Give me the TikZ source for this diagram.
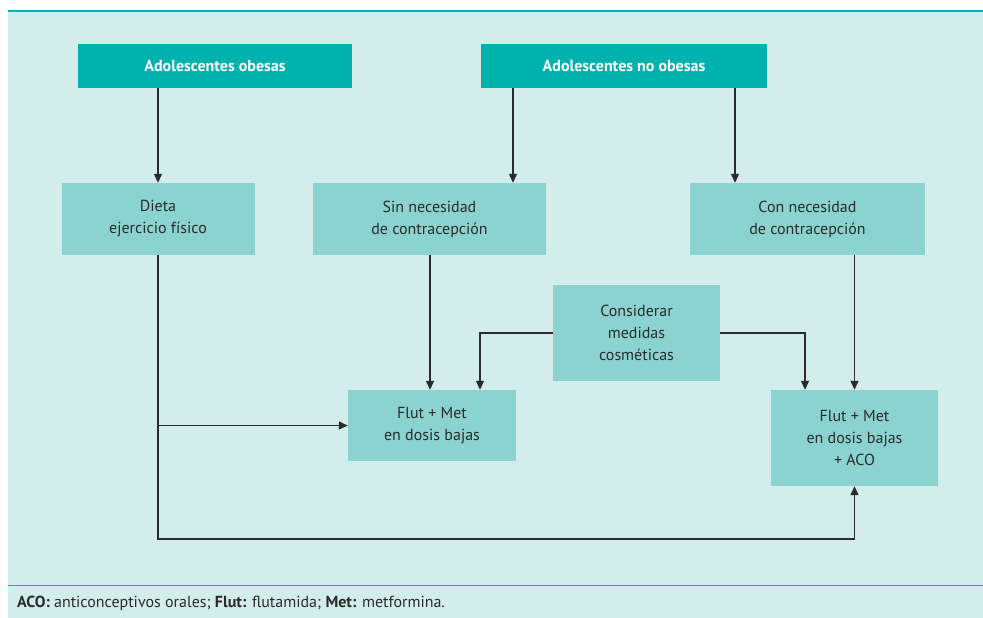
\documentclass[tikz,border=0pt]{standalone}
\usepackage{fontspec}
\setmainfont{PT Sans}
\usetikzlibrary{arrows.meta}
\definecolor{bg}{HTML}{D3ECEC}
\definecolor{dark}{HTML}{00B2AE}
\definecolor{boxc}{HTML}{8BD3D1}
\definecolor{ln}{HTML}{2B2B2B}
\begin{document}
\begin{tikzpicture}[x=1pt,y=-1pt,
 topbox/.style={fill=dark, text=white, font=\fontsize{16}{19}\selectfont\bfseries, inner sep=0pt},
 lbox/.style={fill=boxc, text=ln, font=\fontsize{16}{22}\selectfont, align=center, inner sep=0pt},
 arr/.style={-{Triangle[length=9pt,width=8pt]}, line width=1.2pt, draw=ln}]
\useasboundingbox (0,0) rectangle (983,618);
\fill[white] (0,0) rectangle (983,618);
\fill[bg] (8,10) rectangle (983,618);
\draw[dark, line width=2pt] (8,11) -- (983,11);
\draw[dark, line width=1pt] (8,585) -- (983,585);

\node[topbox, minimum width=274pt, minimum height=44pt] (ob) at (215,66) {Adolescentes obesas};
\node[topbox, minimum width=286pt, minimum height=44pt] (nob) at (624,66) {Adolescentes no obesas};
\node[lbox, minimum width=193pt, minimum height=72pt] (dieta) at (158,219) {Dieta\\ejercicio físico};
\node[lbox, minimum width=233pt, minimum height=72pt] (sin) at (429.5,219) {Sin necesidad\\de contracepción};
\node[lbox, minimum width=235pt, minimum height=72pt] (con) at (807.5,219) {Con necesidad\\de contracepción};
\node[lbox, minimum width=167pt, minimum height=96pt] (cons) at (636.5,333) {Considerar\\medidas\\cosméticas};
\node[lbox, minimum width=168pt, minimum height=71pt] (fl) at (432,425.5) {Flut + Met\\en dosis bajas};
\node[lbox, minimum width=167pt, minimum height=96pt] (fr) at (854.5,438) {Flut + Met\\en dosis bajas\\+ ACO};

\draw[arr] (ob.south -| dieta.north) -- (dieta.north);
\draw[arr] (nob.south -| 513,0) -- (sin.north -| 513,0);
\draw[arr] (nob.south -| 735,0) -- (con.north -| 735,0);
\draw[arr] (sin.south -| 430,0) -- (fl.north -| 430,0);
\draw[arr] (cons.west) -| (fl.north -| 480,0);
\draw[arr] (cons.east) -| (fr.north -| 805,0);
\draw[arr] (con.south -| fr.north) -- (fr.north);
\draw[arr] (dieta.south) |- (fl.west);
\coordinate (c1) at (dieta.south |- 0,539);
\draw[arr] (dieta.south) -- (c1) -| (fr.south);

\node[anchor=west, text=ln, font=\fontsize{16}{18}\selectfont, inner sep=0pt] (fn) at (17,603) {\textbf{ACO:} anticonceptivos orales; \textbf{Flut:} flutamida; \textbf{Met:} metformina.};
\end{tikzpicture}
\end{document}
